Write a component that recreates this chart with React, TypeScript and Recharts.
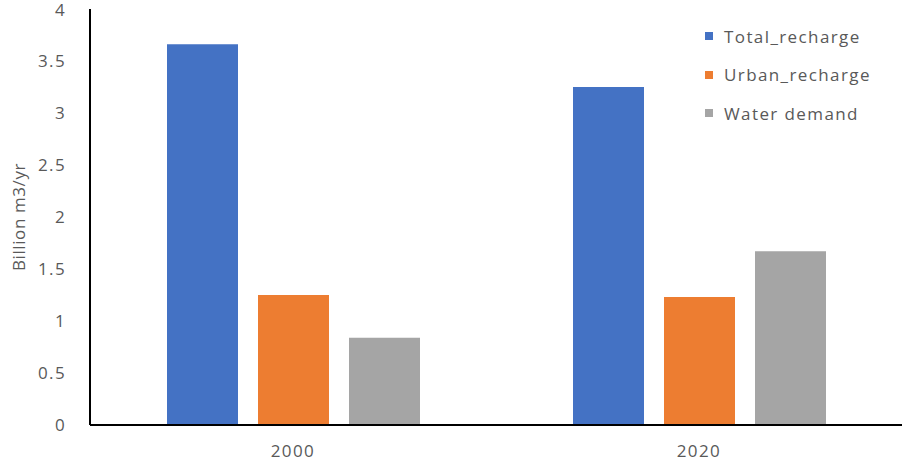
import React from 'react';
import { BarChart, Bar, XAxis, YAxis } from 'recharts';

const years = ['2000', '2020'];
const totalRecharge = [3.66, 3.25];
const urbanRecharge = [1.25, 1.23];
const waterDemand = [0.84, 1.67];
const yTicks = [0, 0.5, 1, 1.5, 2, 2.5, 3, 3.5, 4];

const series = [
  { key: 'total', name: 'Total_recharge', color: '#4472C4' },
  { key: 'urban', name: 'Urban_recharge', color: '#ED7D31' },
  { key: 'demand', name: 'Water demand', color: '#A5A5A5' },
];

const data = years.map((year, i) => ({
  year,
  total: totalRecharge[i],
  urban: urbanRecharge[i],
  demand: waterDemand[i],
}));

const font = '"Open Sans", sans-serif';
const textColor = '#595959';
const spacing = 1.4;

const YLabel = (props: any) => {
  const { viewBox } = props;
  const cx = 18;
  const cy = viewBox.y + viewBox.height / 2;
  return (
    <text
      x={cx}
      y={cy}
      transform={`rotate(-90 ${cx} ${cy})`}
      textAnchor="middle"
      dominantBaseline="central"
      fontFamily={font}
      fontSize={17}
      letterSpacing={0.6}
      fill={textColor}
    >
      Billion m3/yr
    </text>
  );
};

const App: React.FC = () => {
  return (
    <div style={{ position: 'absolute', left: 0, top: 0, width: 904, height: 464, background: '#fff' }}>
      <BarChart
        width={904}
        height={464}
        data={data}
        margin={{ top: 9, right: 2, left: 0, bottom: 0 }}
        barSize={71}
        barGap={20}
      >
        <XAxis
          dataKey="year"
          tickLine={false}
          axisLine={{ stroke: '#000', strokeWidth: 2 }}
          height={39}
          tick={{ fill: textColor, fontSize: 17, fontFamily: font, letterSpacing: spacing }}
          tickMargin={14}
        />
        <YAxis
          domain={[0, 4]}
          ticks={yTicks}
          width={90}
          tickLine={false}
          axisLine={{ stroke: '#000', strokeWidth: 2 }}
          tick={{ fill: textColor, fontSize: 17, fontFamily: font, letterSpacing: spacing }}
          tickMargin={18}
          label={<YLabel />}
        />
        {series.map((s) => (
          <Bar key={s.key} dataKey={s.key} name={s.name} fill={s.color} isAnimationActive={false} />
        ))}
      </BarChart>
      <div
        style={{
          position: 'absolute',
          left: 705,
          top: 17,
          fontFamily: font,
          fontSize: 17,
          color: textColor,
          letterSpacing: spacing,
        }}
      >
        {series.map((s) => (
          <div key={s.key} style={{ display: 'flex', alignItems: 'center', height: 38.5 }}>
            <span style={{ width: 8, height: 8, background: s.color, marginRight: 11 }} />
            <span>{s.name}</span>
          </div>
        ))}
      </div>
    </div>
  );
};

export default App;
